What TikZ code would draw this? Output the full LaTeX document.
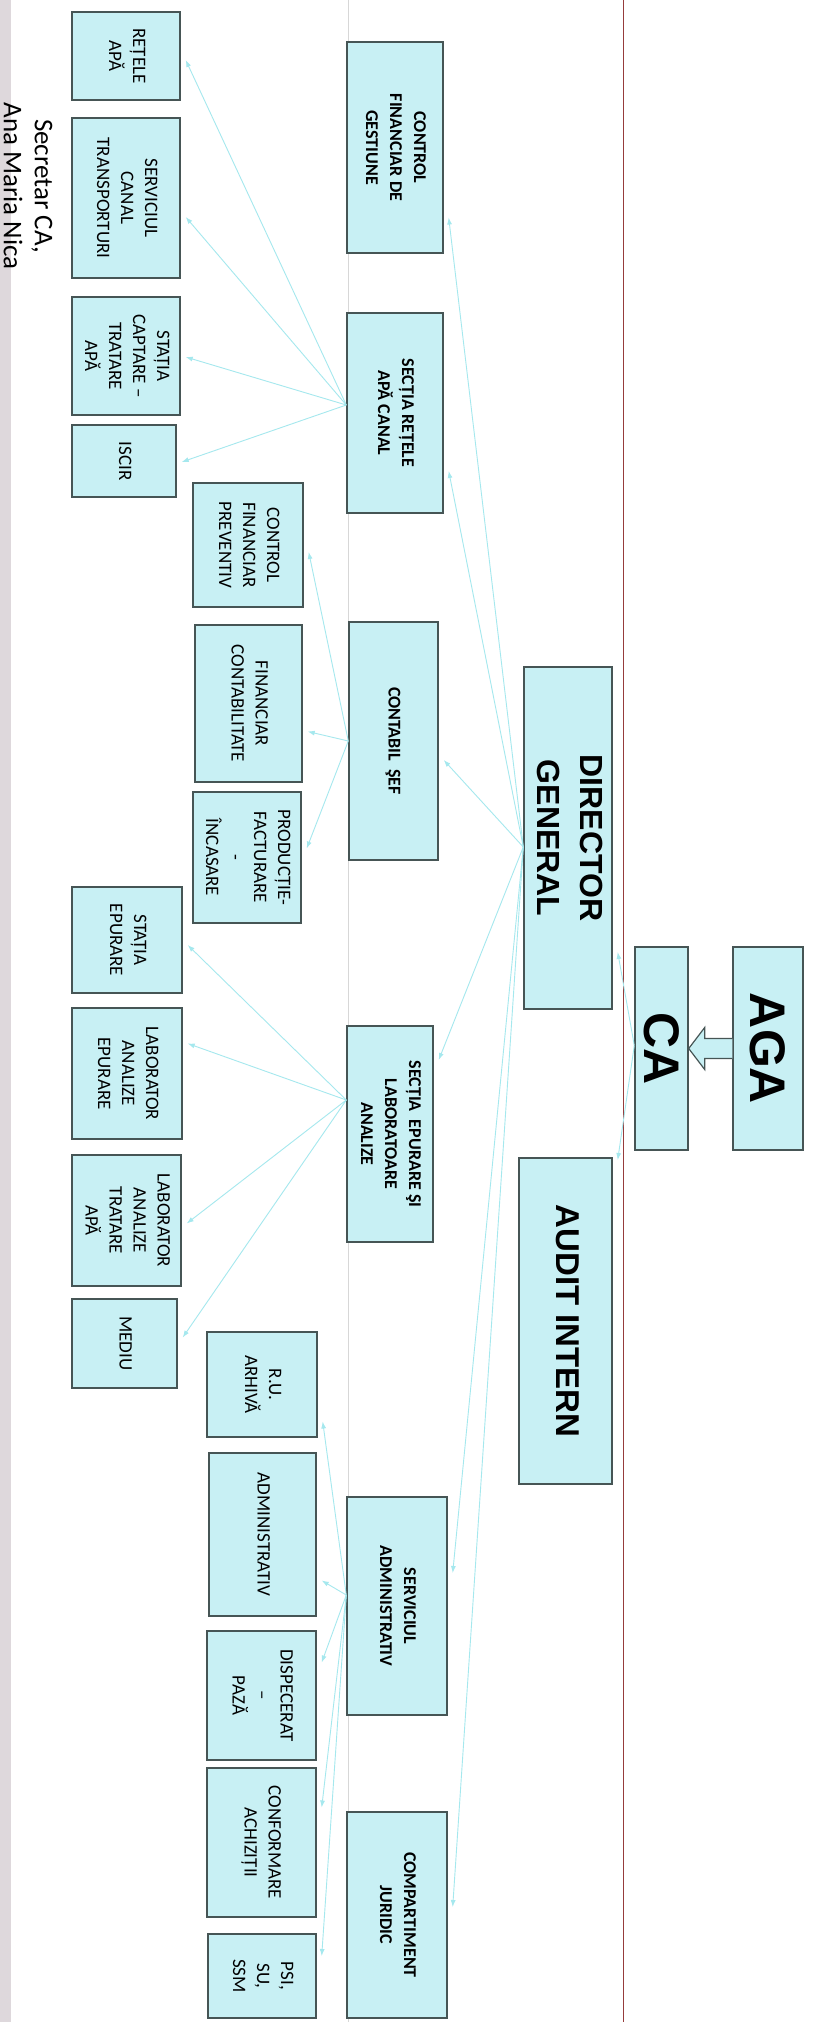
\documentclass[tikz,border=0pt]{standalone}
\usepackage{fontspec}
\setmainfont{Carlito}
\newfontfamily\arialf{Liberation Sans}
\usepackage{graphicx}
\usetikzlibrary{arrows.meta}
\definecolor{boxfill}{RGB}{200,240,244}
\definecolor{boxline}{RGB}{70,85,85}
\definecolor{linkc}{RGB}{165,232,238}
\definecolor{redline}{RGB}{150,60,60}
\definecolor{stripc}{RGB}{222,216,220}
\definecolor{faint}{RGB}{215,215,215}
\newcommand\vt[1]{\rotatebox{-90}{\begin{tabular}{@{}c@{}}#1\end{tabular}}}
\begin{document}
\begin{tikzpicture}[x=1pt,y=-1pt,
 box/.style={draw=boxline,line width=1.4pt,fill=boxfill,inner sep=0pt},
 lone/.style={box,font=\fontsize{18}{24}\selectfont\bfseries},
 ltwo/.style={box,font=\fontsize{19}{24}\selectfont},
 ltop/.style={box,font=\arialf\bfseries\fontsize{32}{43}\selectfont},
 lhuge/.style={box,font=\arialf\bfseries\fontsize{50}{50}\selectfont},
 link/.style={draw=linkc,line width=0.9pt,-{Latex[length=7pt,width=5pt]}},
 sz/.style 2 args={minimum width=#1pt,minimum height=#2pt}]
\useasboundingbox (0,0) rectangle (827,2022);
\fill[white] (0,0) rectangle (827,2022);
\fill[stripc] (0,0) rectangle (11,2022);
\draw[faint,line width=0.6pt] (348,0) -- (348,2022);
\draw[redline,line width=1.3pt] (623.5,0) -- (623.5,2022);

% secretary
\node[rotate=-90,align=center,font=\fontsize{27}{31}\selectfont,inner sep=0pt] (sec) at (28,186) {Secretar CA,\\Ana Maria Nica};

% top level
\node[lhuge,sz={70}{203}] (aga) at (768,1048.5) {\rotatebox{-90}{AGA}};
\node[lhuge,sz={53}{203}] (ca) at (661.5,1048.5) {\rotatebox{-90}{CA}};
\node[ltop,sz={88}{342}] (dg) at (568,838) {\vt{DIRECTOR\\GENERAL}};
\node[ltop,sz={93}{326},font=\arialf\bfseries\fontsize{33}{43}\selectfont] (ai) at (565.5,1321) {\vt{AUDIT INTERN}};

% level 1
\node[lone,sz={96}{211}] (cfg) at (395,147.5) {\vt{CONTROL\\FINANCIAR DE\\GESTIUNE}};
\node[lone,sz={96}{200}] (srac) at (395,413) {\vt{SECȚIA REȚELE\\APĂ CANAL}};
\node[lone,sz={89}{238}] (cs) at (393.5,741) {\vt{CONTABIL\ \ ŞEF}};
\node[lone,sz={86}{216}] (se) at (390,1134) {\vt{SECȚIA\ \ EPURARE ŞI\\LABORATOARE\\ANALIZE}};
\node[lone,sz={100}{218}] (sa) at (397,1606) {\vt{SERVICIUL\\ADMINISTRATIV}};
\node[lone,sz={100}{206}] (cj) at (397,1915) {\vt{COMPARTIMENT\\JURIDIC}};

% level 2
\node[ltwo,sz={108}{88}] (ra) at (126,56) {\vt{REȚELE\\APĂ}};
\node[ltwo,sz={108}{160}] (sct) at (126,198) {\vt{SERVICIUL\\CANAL\\TRANSPORTURI}};
\node[ltwo,sz={108}{118}] (scta) at (126,356) {\vt{STAȚIA\\CAPTARE –\\TRATARE\\APĂ}};
\node[ltwo,sz={104}{72}] (iscir) at (124,461) {\vt{ISCIR}};
\node[ltwo,sz={110}{124}] (cfp) at (248,545) {\vt{CONTROL\\FINANCIAR\\PREVENTIV}};
\node[ltwo,sz={107}{157}] (fc) at (248.5,703.5) {\vt{FINANCIAR\\CONTABILITATE}};
\node[ltwo,sz={108}{131}] (pfi) at (247,857.5) {\vt{PRODUCȚIE-\\FACTURARE\\-\\ÎNCASARE}};
\node[ltwo,sz={110}{106}] (sep) at (127,940) {\vt{STAȚIA\\EPURARE}};
\node[ltwo,sz={110}{131}] (lae) at (127,1073.5) {\vt{LABORATOR\\ANALIZE\\EPURARE}};
\node[ltwo,sz={109}{131}] (lata) at (126.5,1220.5) {\vt{LABORATOR\\ANALIZE\\TRATARE\\APĂ}};
\node[ltwo,sz={105}{89}] (mediu) at (124.5,1343.5) {\vt{MEDIU}};
\node[ltwo,sz={110}{105}] (ru) at (262,1384.5) {\vt{R.U.\\ARHIVĂ}};
\node[ltwo,sz={107}{163}] (adm) at (262.5,1534.5) {\vt{ADMINISTRATIV}};
\node[ltwo,sz={109}{129}] (disp) at (261.5,1695.5) {\vt{DISPECERAT\\–\\PAZĂ}};
\node[ltwo,sz={109}{149}] (conf) at (261.5,1842.5) {\vt{CONFORMARE\\ACHIZIȚII}};
\node[ltwo,sz={108}{84}] (psi) at (262,1976) {\vt{PSI,\\SU,\\SSM}};

% block arrow AGA -> CA
\draw[boxline,fill=boxfill,line width=1.2pt,line join=miter]
  ([shift={(0,-10)}]aga.west) -- ([shift={(16,-10)}]ca.east) -- ([shift={(16,-21)}]ca.east)
  -- (ca.east) -- ([shift={(16,21)}]ca.east) -- ([shift={(16,10)}]ca.east)
  -- ([shift={(0,10)}]aga.west);

% connectors
\coordinate (cah) at ([shift={(0,-3)}]ca.west);
\draw[link] (cah) -- ([shift={(5,114)}]dg.east);
\draw[link] (cah) -- ([shift={(5,-161)}]ai.east);

\coordinate (dgh) at ([shift={(0,9)}]dg.west);
\foreach \n/\d in {cfg/70, srac/58, cs/19, se/-74, sa/-33, cj/-8}
  \draw[link] (dgh) -- ([shift={(5,\d)}]\n.east);

\coordinate (srh) at ([shift={(0,-8)}]srac.west);
\foreach \n/\d in {ra/4, sct/19, scta/1, iscir/1}
  \draw[link] (srh) -- ([shift={(5,\d)}]\n.east);

\foreach \n/\d in {cfp/7, fc/28, pfi/-9}
  \draw[link] (cs.west) -- ([shift={(5,\d)}]\n.east);

\coordinate (seh) at ([shift={(0,-34)}]se.west);
\foreach \n/\d in {sep/5, lae/-30, lata/3, mediu/-6}
  \draw[link] (seh) -- ([shift={(5,\d)}]\n.east);

\coordinate (sah) at ([shift={(0,-11)}]sa.west);
\foreach \n/\d in {ru/37, adm/46, disp/-33, conf/-35, psi/-20}
  \draw[link] (sah) -- ([shift={(5,\d)}]\n.east);
\end{tikzpicture}
\end{document}
